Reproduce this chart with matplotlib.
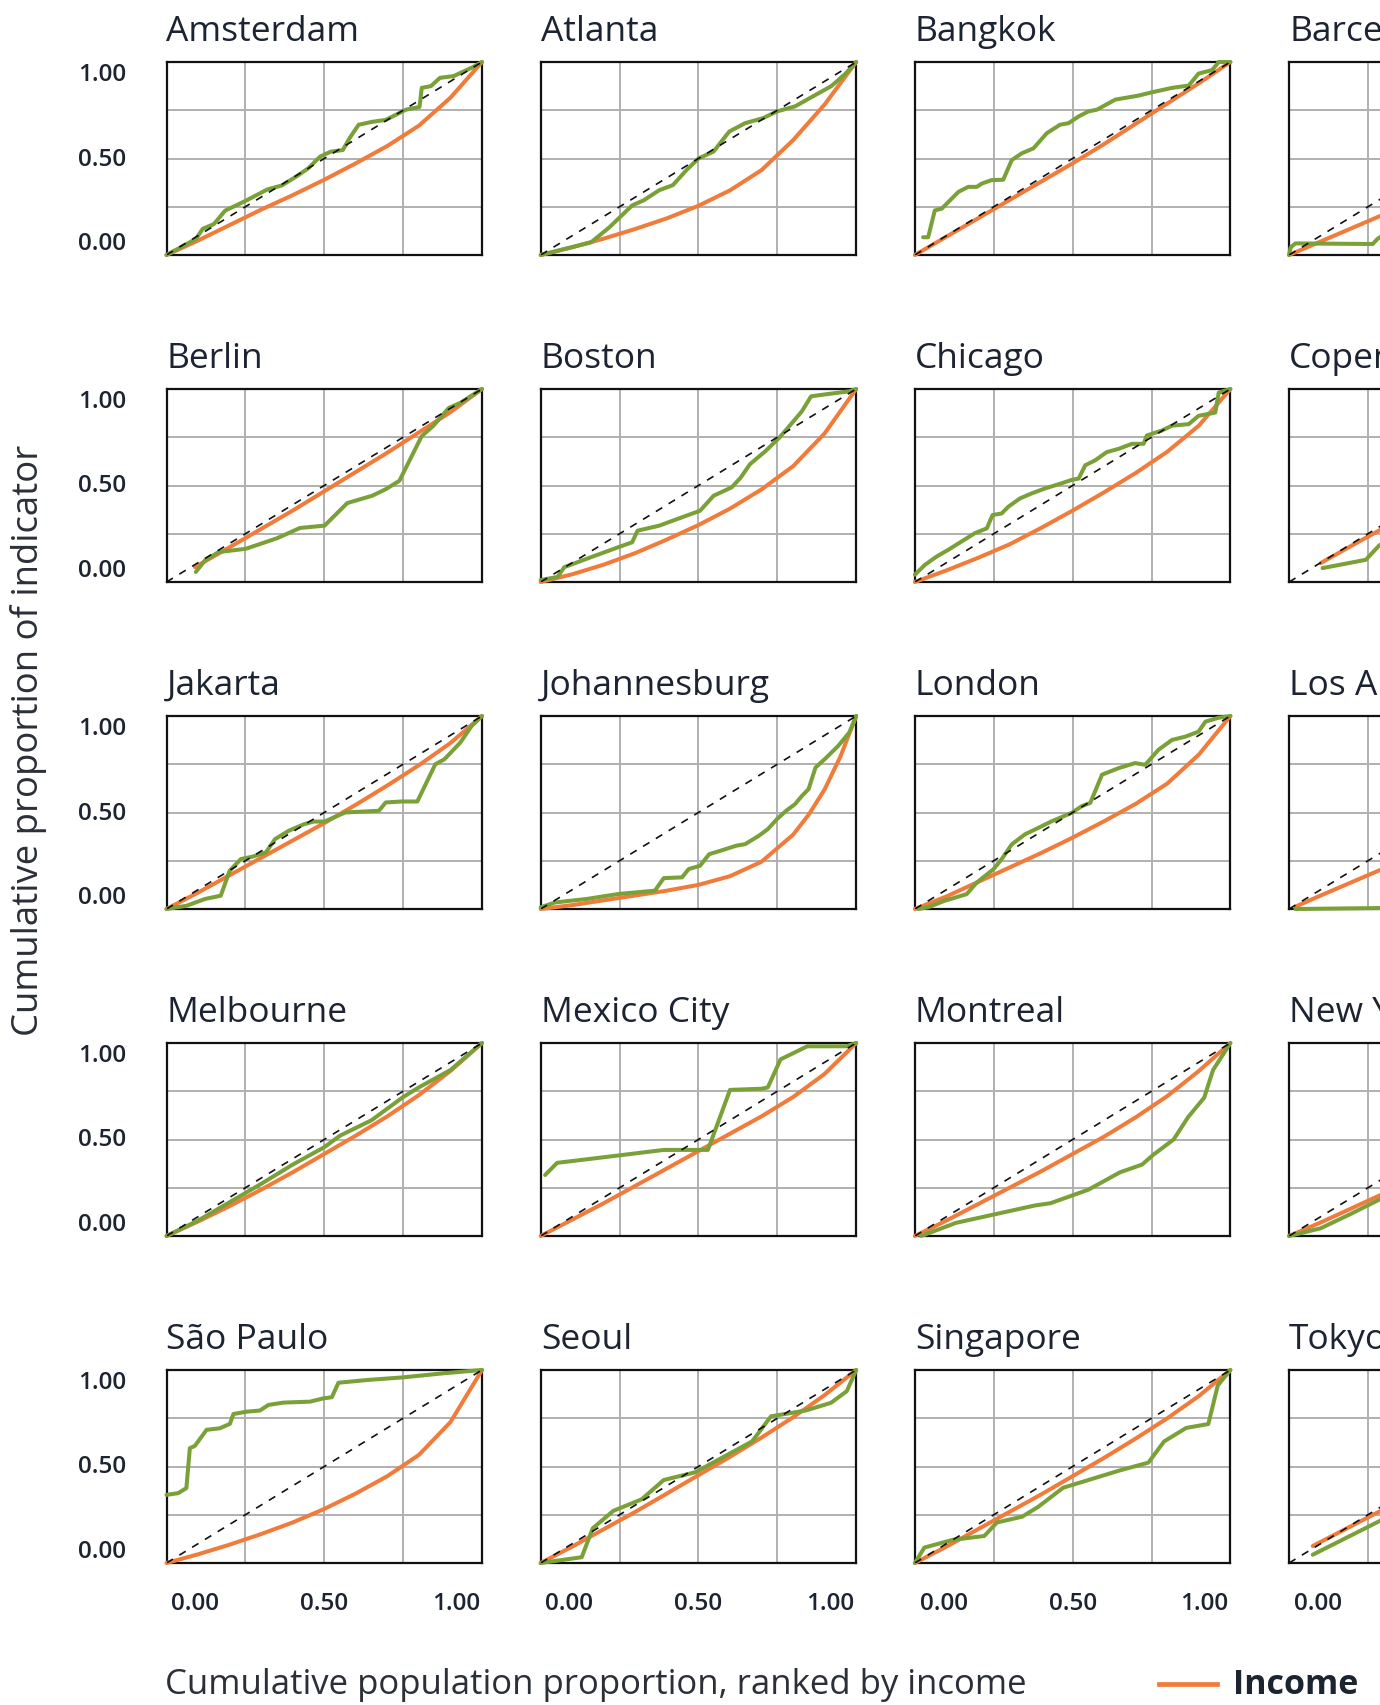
import matplotlib.pyplot as plt

# Concentration curves: x = cumulative population share (ranked by income),
# y = cumulative share of the indicator (green) and of income (orange).
cities = ["Amsterdam", "Atlanta", "Bangkok", "Barcelona",
          "Berlin", "Boston", "Chicago", "Copenhagen",
          "Jakarta", "Johannesburg", "London", "Los Angeles",
          "Melbourne", "Mexico City", "Montreal", "New York",
          "São Paulo", "Seoul", "Singapore", "Tokyo"]

amsterdam_indicator = [(0, 0), (0.093, 0.083), (0.115, 0.136), (0.15, 0.16), (0.186, 0.23), (0.25, 0.28),
                       (0.32, 0.34), (0.365, 0.36), (0.41, 0.405), (0.45, 0.45), (0.487, 0.51), (0.52, 0.535),
                       (0.559, 0.544), (0.58, 0.605), (0.609, 0.675), (0.652, 0.69), (0.695, 0.70),
                       (0.759, 0.753), (0.802, 0.767), (0.809, 0.866), (0.838, 0.875), (0.867, 0.918),
                       (0.91, 0.927), (0.967, 0.97), (1, 1)]
amsterdam_income = [(0, 0), (0.1, 0.075), (0.2, 0.155), (0.3, 0.235), (0.4, 0.31), (0.5, 0.39),
                    (0.6, 0.475), (0.7, 0.565), (0.8, 0.67), (0.9, 0.815), (1, 1)]

atlanta_indicator = [(0, 0), (0.16, 0.066), (0.218, 0.144), (0.29, 0.257), (0.326, 0.283), (0.376, 0.336),
                     (0.419, 0.362), (0.462, 0.44), (0.5, 0.5), (0.548, 0.536), (0.577, 0.597), (0.598, 0.64),
                     (0.648, 0.683), (0.706, 0.71), (0.749, 0.744), (0.806, 0.77), (0.864, 0.823),
                     (0.921, 0.875), (0.964, 0.936), (1, 1)]
atlanta_income = [(0, 0), (0.1, 0.04), (0.2, 0.085), (0.3, 0.135), (0.4, 0.19), (0.5, 0.255),
                  (0.6, 0.335), (0.7, 0.44), (0.8, 0.595), (0.9, 0.78), (1, 1)]

bangkok_indicator = [(0.026, 0.092), (0.042, 0.092), (0.063, 0.231), (0.085, 0.24), (0.138, 0.327),
                     (0.169, 0.353), (0.196, 0.353), (0.212, 0.37), (0.243, 0.388), (0.28, 0.39),
                     (0.307, 0.492), (0.339, 0.527), (0.376, 0.553), (0.418, 0.631), (0.46, 0.675),
                     (0.487, 0.683), (0.519, 0.718), (0.55, 0.744), (0.577, 0.753), (0.635, 0.805),
                     (0.709, 0.826), (0.751, 0.843), (0.815, 0.866), (0.868, 0.878), (0.899, 0.94),
                     (0.942, 0.958), (0.963, 1.0), (1, 1)]
bangkok_income = [(0, 0), (0.1, 0.095), (0.2, 0.19), (0.3, 0.285), (0.4, 0.38), (0.5, 0.475),
                  (0.6, 0.575), (0.7, 0.68), (0.8, 0.785), (0.9, 0.89), (1, 1)]

barcelona_indicator = [(0, 0), (0.005, 0.04), (0.02, 0.06), (0.265, 0.057), (0.28, 0.083), (0.35, 0.16),
                       (0.5, 0.32), (0.75, 0.62), (1, 1)]
barcelona_income = [(0, 0), (0.1, 0.07), (0.2, 0.14), (0.3, 0.21), (0.4, 0.29), (0.5, 0.37),
                    (0.6, 0.46), (0.7, 0.56), (0.8, 0.67), (0.9, 0.81), (1, 1)]

berlin_indicator = [(0.093, 0.052), (0.122, 0.112), (0.165, 0.155), (0.251, 0.172), (0.351, 0.227),
                    (0.423, 0.28), (0.501, 0.292), (0.573, 0.409), (0.652, 0.447), (0.695, 0.481),
                    (0.738, 0.524), (0.809, 0.756), (0.845, 0.808), (0.895, 0.902), (0.931, 0.928), (1, 1)]
berlin_income = [(0.09, 0.077), (0.2, 0.18), (0.3, 0.275), (0.4, 0.37), (0.5, 0.47), (0.6, 0.57),
                 (0.7, 0.67), (0.8, 0.775), (0.9, 0.88), (1, 1)]

boston_indicator = [(0, 0.01), (0.053, 0.026), (0.075, 0.077), (0.16, 0.129), (0.232, 0.172), (0.29, 0.206),
                    (0.307, 0.266), (0.376, 0.292), (0.419, 0.318), (0.476, 0.352), (0.505, 0.369),
                    (0.548, 0.447), (0.605, 0.49), (0.634, 0.541), (0.663, 0.61), (0.713, 0.679),
                    (0.756, 0.747), (0.806, 0.842), (0.828, 0.885), (0.857, 0.962), (0.892, 0.97),
                    (0.978, 0.988), (1, 1)]
boston_income = [(0, 0), (0.1, 0.04), (0.2, 0.09), (0.3, 0.15), (0.4, 0.22), (0.5, 0.295),
                 (0.6, 0.38), (0.7, 0.48), (0.8, 0.6), (0.9, 0.77), (1, 1)]

chicago_indicator = [(0, 0.038), (0.032, 0.089), (0.069, 0.132), (0.106, 0.167), (0.148, 0.21), (0.19, 0.253),
                     (0.228, 0.278), (0.246, 0.347), (0.275, 0.355), (0.296, 0.39), (0.333, 0.433),
                     (0.37, 0.459), (0.413, 0.485), (0.466, 0.512), (0.497, 0.529), (0.519, 0.536),
                     (0.54, 0.605), (0.571, 0.63), (0.608, 0.673), (0.646, 0.69), (0.688, 0.716),
                     (0.725, 0.716), (0.735, 0.759), (0.783, 0.785), (0.815, 0.81), (0.868, 0.818),
                     (0.899, 0.861), (0.952, 0.878), (0.963, 0.981), (1, 1)]
chicago_income = [(0, 0), (0.1, 0.06), (0.2, 0.125), (0.3, 0.195), (0.4, 0.28), (0.5, 0.37),
                  (0.6, 0.465), (0.7, 0.565), (0.8, 0.675), (0.9, 0.81), (1, 1)]

copenhagen_indicator = [(0.106, 0.072), (0.243, 0.115), (0.286, 0.19), (0.4, 0.3), (0.6, 0.5),
                        (0.8, 0.75), (1, 1)]
copenhagen_income = [(0.1, 0.098), (0.2, 0.19), (0.3, 0.28), (0.4, 0.375), (0.5, 0.47), (0.6, 0.57),
                     (0.7, 0.67), (0.8, 0.775), (0.9, 0.885), (1, 1)]

jakarta_indicator = [(0, 0), (0.064, 0.017), (0.122, 0.052), (0.172, 0.069), (0.2, 0.198), (0.236, 0.259),
                     (0.272, 0.271), (0.315, 0.293), (0.344, 0.362), (0.387, 0.405), (0.437, 0.44),
                     (0.466, 0.453), (0.501, 0.453), (0.566, 0.5), (0.673, 0.509), (0.695, 0.552),
                     (0.745, 0.557), (0.795, 0.557), (0.852, 0.75), (0.881, 0.776), (0.931, 0.862),
                     (0.967, 0.948), (1, 1)]
jakarta_income = [(0, 0), (0.1, 0.085), (0.2, 0.175), (0.3, 0.265), (0.4, 0.355), (0.5, 0.445),
                  (0.6, 0.54), (0.7, 0.64), (0.8, 0.745), (0.9, 0.86), (1, 1)]

johannesburg_indicator = [(0, 0.009), (0.046, 0.034), (0.146, 0.052), (0.247, 0.078), (0.362, 0.095),
                          (0.39, 0.16), (0.448, 0.164), (0.469, 0.207), (0.505, 0.224), (0.534, 0.284),
                          (0.57, 0.302), (0.62, 0.328), (0.648, 0.336), (0.691, 0.379), (0.72, 0.414),
                          (0.749, 0.466), (0.778, 0.509), (0.806, 0.543), (0.828, 0.586), (0.849, 0.621),
                          (0.871, 0.733), (0.9, 0.776), (0.943, 0.845), (0.978, 0.914), (1, 1)]
johannesburg_income = [(0, 0), (0.1, 0.02), (0.2, 0.045), (0.3, 0.07), (0.4, 0.095), (0.5, 0.125),
                       (0.6, 0.17), (0.7, 0.245), (0.8, 0.385), (0.85, 0.49), (0.9, 0.62),
                       (0.95, 0.79), (1, 1)]

london_indicator = [(0.01, 0), (0.042, 0.009), (0.095, 0.043), (0.164, 0.077), (0.196, 0.137), (0.249, 0.206),
                    (0.275, 0.258), (0.307, 0.335), (0.349, 0.387), (0.392, 0.421), (0.434, 0.455),
                    (0.497, 0.498), (0.529, 0.533), (0.556, 0.55), (0.593, 0.696), (0.646, 0.73),
                    (0.698, 0.756), (0.73, 0.747), (0.772, 0.825), (0.815, 0.876), (0.857, 0.893),
                    (0.899, 0.919), (0.921, 0.971), (0.963, 0.991), (1, 1)]
london_income = [(0, 0), (0.1, 0.065), (0.2, 0.14), (0.3, 0.215), (0.4, 0.29), (0.5, 0.37),
                 (0.6, 0.455), (0.7, 0.545), (0.8, 0.65), (0.9, 0.8), (1, 1)]

los_angeles_indicator = [(0.02, 0.0), (0.29, 0.005), (0.4, 0.06), (0.6, 0.25), (0.8, 0.55), (1, 1)]
los_angeles_income = [(0.02, 0.012), (0.1, 0.07), (0.2, 0.14), (0.3, 0.21), (0.4, 0.285), (0.5, 0.365),
                      (0.6, 0.455), (0.7, 0.555), (0.8, 0.665), (0.9, 0.8), (1, 1)]

melbourne_indicator = [(0, 0), (0.1, 0.08), (0.2, 0.175), (0.3, 0.27), (0.4, 0.37), (0.5, 0.46),
                       (0.55, 0.52), (0.65, 0.6), (0.75, 0.72), (0.8, 0.77), (0.9, 0.86), (1, 1)]
melbourne_income = [(0, 0), (0.1, 0.075), (0.2, 0.155), (0.3, 0.24), (0.4, 0.33), (0.5, 0.425),
                    (0.6, 0.52), (0.7, 0.62), (0.8, 0.73), (0.9, 0.855), (1, 1)]

mexico_city_indicator = [(0.014, 0.316), (0.052, 0.379), (0.25, 0.418), (0.39, 0.446), (0.53, 0.446),
                         (0.6, 0.757), (0.7, 0.763), (0.72, 0.77), (0.76, 0.915), (0.845, 0.983),
                         (0.97, 0.983), (1, 1)]
mexico_city_income = [(0, 0), (0.1, 0.085), (0.2, 0.17), (0.3, 0.26), (0.4, 0.35), (0.5, 0.44),
                      (0.6, 0.53), (0.7, 0.62), (0.8, 0.72), (0.9, 0.84), (1, 1)]

montreal_indicator = [(0.02, 0), (0.13, 0.068), (0.38, 0.158), (0.43, 0.17), (0.55, 0.24), (0.65, 0.33),
                      (0.72, 0.37), (0.755, 0.42), (0.82, 0.5), (0.866, 0.616), (0.917, 0.717),
                      (0.945, 0.86), (1, 1)]
montreal_income = [(0, 0), (0.1, 0.08), (0.2, 0.165), (0.3, 0.25), (0.4, 0.335), (0.5, 0.425),
                   (0.6, 0.515), (0.7, 0.615), (0.8, 0.725), (0.9, 0.855), (1, 1)]

new_york_indicator = [(0, 0), (0.1, 0.04), (0.19, 0.11), (0.3, 0.2), (0.5, 0.4), (0.75, 0.68), (1, 1)]
new_york_income = [(0, 0), (0.1, 0.07), (0.2, 0.145), (0.3, 0.22), (0.4, 0.3), (0.5, 0.385),
                   (0.6, 0.475), (0.7, 0.57), (0.8, 0.675), (0.9, 0.8), (1, 1)]

sao_paulo_indicator = [(0, 0.353), (0.037, 0.362), (0.063, 0.388), (0.074, 0.595), (0.09, 0.607),
                       (0.127, 0.69), (0.169, 0.698), (0.201, 0.721), (0.212, 0.772), (0.254, 0.784),
                       (0.296, 0.79), (0.323, 0.819), (0.37, 0.831), (0.455, 0.836), (0.497, 0.853),
                       (0.524, 0.859), (0.545, 0.934), (0.635, 0.948), (0.751, 0.962), (0.878, 0.983),
                       (1, 1)]
sao_paulo_income = [(0, 0), (0.1, 0.045), (0.2, 0.095), (0.3, 0.15), (0.4, 0.21), (0.5, 0.28),
                    (0.6, 0.36), (0.7, 0.45), (0.8, 0.56), (0.9, 0.73), (1, 1)]

seoul_indicator = [(0, 0), (0.13, 0.03), (0.165, 0.18), (0.23, 0.27), (0.32, 0.33), (0.39, 0.43),
                   (0.49, 0.47), (0.58, 0.55), (0.67, 0.63), (0.73, 0.76), (0.84, 0.79), (0.92, 0.83),
                   (0.97, 0.89), (1, 1)]
seoul_income = [(0, 0), (0.1, 0.085), (0.2, 0.175), (0.3, 0.265), (0.4, 0.36), (0.5, 0.455),
                (0.6, 0.55), (0.7, 0.65), (0.8, 0.755), (0.9, 0.87), (1, 1)]

singapore_indicator = [(0, 0), (0.03, 0.08), (0.12, 0.12), (0.22, 0.14), (0.26, 0.21), (0.34, 0.24),
                       (0.39, 0.29), (0.47, 0.39), (0.55, 0.43), (0.65, 0.48), (0.74, 0.52), (0.79, 0.63),
                       (0.86, 0.7), (0.93, 0.72), (0.96, 0.92), (1, 1)]
singapore_income = [(0, 0), (0.1, 0.085), (0.2, 0.175), (0.3, 0.265), (0.4, 0.355), (0.5, 0.45),
                    (0.6, 0.545), (0.7, 0.645), (0.8, 0.75), (0.9, 0.865), (1, 1)]

tokyo_indicator = [(0.075, 0.043), (0.29, 0.22), (0.5, 0.42), (0.75, 0.68), (1, 1)]
tokyo_income = [(0.075, 0.088), (0.29, 0.27), (0.5, 0.46), (0.75, 0.71), (1, 1)]

indicator_curves = [amsterdam_indicator, atlanta_indicator, bangkok_indicator, barcelona_indicator,
                    berlin_indicator, boston_indicator, chicago_indicator, copenhagen_indicator,
                    jakarta_indicator, johannesburg_indicator, london_indicator, los_angeles_indicator,
                    melbourne_indicator, mexico_city_indicator, montreal_indicator, new_york_indicator,
                    sao_paulo_indicator, seoul_indicator, singapore_indicator, tokyo_indicator]
income_curves = [amsterdam_income, atlanta_income, bangkok_income, barcelona_income,
                 berlin_income, boston_income, chicago_income, copenhagen_income,
                 jakarta_income, johannesburg_income, london_income, los_angeles_income,
                 melbourne_income, mexico_city_income, montreal_income, new_york_income,
                 sao_paulo_income, seoul_income, singapore_income, tokyo_income]

tick_labels = ["0.00", "0.50", "1.00"]

GREEN = "#79a138"
ORANGE = "#f07b3a"
TEXT = "#1c2331"

plt.rcParams["font.family"] = ["Open Sans", "DejaVu Sans"]

W, H = 1380, 1706
fig = plt.figure(figsize=(W / 100, H / 100), dpi=100)

# panel geometry in pixels (the grid runs past the right edge of the page)
ax_w, ax_h = 315.5, 193
col_left = [166.5, 540.7, 914.9, 1289.1]
row_top = [63, 390, 717, 1044, 1371]

tick_kw = dict(fontsize=17.5, color=TEXT, fontweight="semibold")

for i, city in enumerate(cities):
    r, c = divmod(i, 4)
    x0 = col_left[c]
    y0 = row_top[r]
    ax = fig.add_axes([x0 / W, 1 - (y0 + ax_h) / H, ax_w / W, ax_h / H])
    ax.set_xlim(0, 1)
    ax.set_ylim(0, 1)
    ax.set_xticks([0.25, 0.5, 0.75])
    ax.set_yticks([0.25, 0.5, 0.75])
    ax.grid(True, color="#b0b0b0", lw=1.4)
    ax.tick_params(length=0, labelbottom=False, labelleft=False)
    for s in ax.spines.values():
        s.set_linewidth(1.6)
        s.set_color("#111111")
    ax.set_axisbelow(True)

    inc = income_curves[i]
    ind = indicator_curves[i]
    ax.plot([p[0] for p in inc], [p[1] for p in inc], color=ORANGE, lw=2.9,
            solid_capstyle="round", zorder=3, clip_on=False)
    ax.plot([p[0] for p in ind], [p[1] for p in ind], color=GREEN, lw=2.9,
            solid_capstyle="round", solid_joinstyle="round", zorder=4, clip_on=False)
    ax.plot([0, 1], [0, 1], color="#111111", lw=1.2, ls=(0, (4.5, 4.5)), zorder=5)

    ax.set_title(city, loc="left", fontsize=25.5, color=TEXT, pad=16)

    if c == 0:
        ax.text(-0.127, 1.0, tick_labels[2], transform=ax.transAxes, ha="right", va="top", **tick_kw)
        ax.text(-0.127, 0.5, tick_labels[1], transform=ax.transAxes, ha="right", va="center", **tick_kw)
        ax.text(-0.127, 0.0, tick_labels[0], transform=ax.transAxes, ha="right", va="bottom", **tick_kw)
    if r == 4:
        ax.text(0.015, -0.207, tick_labels[0], transform=ax.transAxes, ha="left", va="center", **tick_kw)
        ax.text(0.5, -0.207, tick_labels[1], transform=ax.transAxes, ha="center", va="center", **tick_kw)
        ax.text(0.994, -0.207, tick_labels[2], transform=ax.transAxes, ha="right", va="center", **tick_kw)

fig.text(29 / W, 1 - 740 / H, "Cumulative proportion of indicator", rotation=90,
         ha="center", va="center", fontsize=26.3, color="#2b2f38")
fig.text(165 / W, 1 - 1685 / H, "Cumulative population proportion, ranked by income",
         ha="left", va="center", fontsize=25, color="#2b2f38")

# legend entry
fig.add_artist(plt.Line2D([1159 / W, 1217 / W], [1 - 1685 / H, 1 - 1685 / H],
                          color=ORANGE, lw=3.4, transform=fig.transFigure))
fig.text(1233 / W, 1 - 1685 / H, "Income", ha="left", va="center", fontsize=24.5,
         fontweight="bold", color=TEXT)

fig.savefig("out.png", dpi=100)
